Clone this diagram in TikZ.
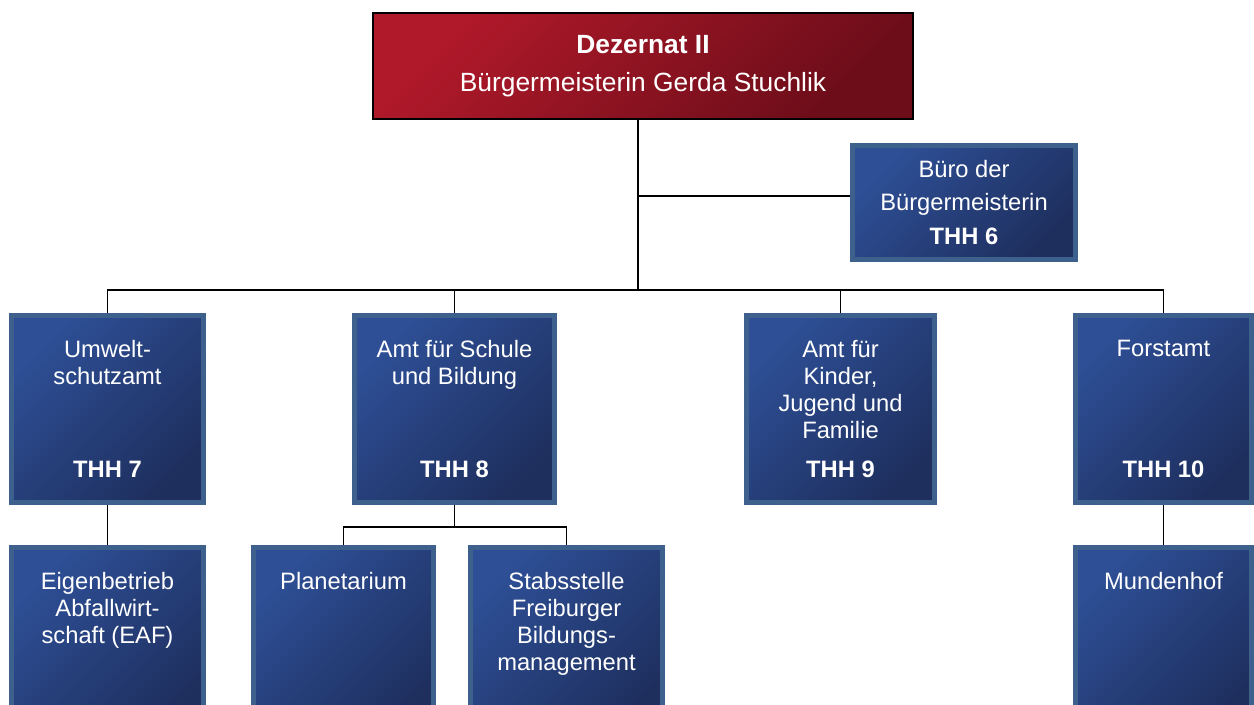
\documentclass[tikz,border=0pt]{standalone}
\usepackage{fontspec}
\setmainfont{Liberation Sans}
\usetikzlibrary{positioning}
\definecolor{rotoben}{RGB}{176,25,42}
\definecolor{rotunten}{RGB}{108,13,25}
\definecolor{blauoben}{RGB}{46,79,150}
\definecolor{blauunten}{RGB}{30,47,94}
\definecolor{rahmen}{RGB}{62,96,140}
\newcommand{\feld}[2]{\begin{minipage}[c][2.74cm][t]{3.4cm}\centering #1\par\vfill\textbf{#2}\end{minipage}}

\begin{document}
\begin{tikzpicture}[font=\fontsize{13.5}{15.3}\selectfont, text=white,
    einheit/.style={draw=rahmen, line width=2.6pt, top color=blauoben, bottom color=blauunten,
      shading angle=45, minimum height=3.75cm, inner sep=0pt},
    linie/.style={line width=1.1pt}]
  \useasboundingbox (0,0) rectangle (25.08,14.08);
  \node[draw=black, line width=1.2pt, top color=rotoben, bottom color=rotunten, shading angle=45,
    minimum width=10.8cm, minimum height=2.12cm, align=center,
    font=\fontsize{15}{21.5}\selectfont] (dez) at (12.86,12.76)
    {\textbf{Dezernat II}\\Bürgermeisterin Gerda Stuchlik};
  \node[einheit, minimum width=4.47cm, minimum height=2.29cm, align=center,
    font=\fontsize{13.5}{19.3}\selectfont] (buero) at (19.28,10.03)
    {Büro der\\Bürgermeisterin\\\textbf{THH 6}};
  \node[einheit, minimum width=3.85cm] (umwelt) at (2.15,5.9) {\feld{Umwelt-\\schutzamt}{THH 7}};
  \node[einheit, minimum width=4.01cm] (schule) at (9.09,5.9) {\feld{Amt für Schule\\und Bildung}{THH 8}};
  \node[einheit, minimum width=3.77cm] (kinder) at (16.81,5.9) {\feld{Amt für\\Kinder,\\Jugend und\\Familie}{THH 9}};
  \node[einheit, minimum width=3.53cm] (forst) at (23.27,5.9) {\feld{Forstamt}{THH 10}};
  \node[einheit, minimum width=3.85cm] (eigen) at (2.15,1.26) {\feld{Eigenbetrieb\\Abfallwirt-\\schaft (EAF)}{}};
  \node[einheit, minimum width=3.61cm] (planet) at (6.87,1.26) {\feld{Planetarium}{}};
  \node[einheit, minimum width=3.85cm] (stabs) at (11.33,1.26) {\feld{Stabsstelle\\Freiburger\\Bildungs-\\management}{}};
  \node[einheit, minimum width=3.53cm] (mund) at (23.27,1.26) {\feld{Mundenhof}{}};
  \coordinate (knoten) at (12.76,8.28);
  \coordinate (abzweig) at (12.76,10.16);
  \coordinate (gabel) at (9.09,3.54);
  \draw[linie] (dez.south -| knoten) -- (knoten);
  \draw[linie] (abzweig) -- (abzweig -| buero.west);
  \draw[linie] (umwelt.north) |- (knoten) -| (forst.north);
  \draw[linie] (schule.north) -- (schule.north |- knoten);
  \draw[linie] (kinder.north) -- (kinder.north |- knoten);
  \draw[linie] (umwelt.south) -- (eigen.north);
  \draw[linie] (forst.south) -- (mund.north);
  \draw[linie] (schule.south) -- (gabel);
  \draw[linie] (planet.north) |- (gabel) -| (stabs.north);
\end{tikzpicture}
\end{document}
